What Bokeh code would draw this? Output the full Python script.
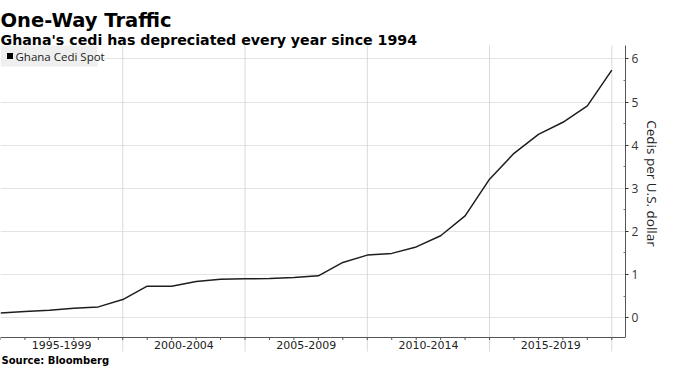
from bokeh.plotting import figure
from bokeh.models import FixedTicker
from bokeh.core.properties import value
from bokeh.embed import file_html
from bokeh.resources import INLINE

# ---- data (year-end USD/GHS spot) ----
years = [1994, 1995, 1996, 1997, 1998, 1999, 2000, 2001, 2002, 2003, 2004, 2005, 2006,
         2007, 2008, 2009, 2010, 2011, 2012, 2013, 2014, 2015, 2016, 2017, 2018, 2019]
cedi = [0.11, 0.14, 0.17, 0.22, 0.25, 0.42, 0.73, 0.73, 0.84, 0.89, 0.90, 0.91, 0.93,
        0.97, 1.28, 1.45, 1.49, 1.64, 1.90, 2.36, 3.21, 3.81, 4.25, 4.53, 4.91, 5.74]
band_starts = [1995, 2000, 2005, 2010, 2015]
band_labels = ["1995-1999", "2000-2004", "2005-2009", "2010-2014", "2015-2019"]
y_ticks = [0, 1, 2, 3, 4, 5, 6]

title_text = "One-Way Traffic"
subtitle_text = "Ghana's cedi has depreciated every year since 1994"
source_text = "Source: Bloomberg"
series_name = "Ghana Cedi Spot"
y_label = "Cedis per U.S. dollar"

# ---- layout (pixels) ----
W, H = 664, 366
RIGHT = 38
PX_TOP, PX_AXIS = 45, 337          # canvas rows of plot top and of the x axis line
LEG_W, LEG_H = 97, 21
X_LO, X_HI = 1995, 2020.56
Y_LO, Y_HI = -0.46, 6.31
ppu = (PX_AXIS - PX_TOP) / (Y_HI - Y_LO)
ppx = (W - RIGHT - 2) / (X_HI - X_LO)   # approximate, only used for the legend box
y_start = Y_LO - (H - PX_AXIS) / ppu
y_end = Y_HI + PX_TOP / ppu


def row(r):
    """canvas row (px from top) -> data y"""
    return y_end - r / ppu


p = figure(width=W, height=H, x_range=(X_LO, X_HI), y_range=(y_start, y_end),
           y_axis_location="right", x_axis_location=None, toolbar_location=None,
           output_backend="svg", title=None, min_border_left=0, min_border_right=RIGHT,
           min_border_top=0, min_border_bottom=0)
p.outline_line_color = None
p.background_fill_color = "white"
p.border_fill_color = "white"
for g in p.xgrid:
    g.visible = False

# horizontal grid
p.ygrid.ticker = FixedTicker(ticks=y_ticks)
p.ygrid.grid_line_color = "#e4e4e4"

# vertical grid lines continuing below the axis as band separators
seps = band_starts[1:] + [2020]
p.segment(x0=seps, x1=seps, y0=[Y_LO - 14 / ppu] * len(seps), y1=[Y_HI] * len(seps),
          line_color="#dadada", line_width=1)

# bottom axis line and yearly ticks
yrs = list(range(1995, 2021))
p.segment(x0=yrs, x1=yrs, y0=[Y_LO] * len(yrs), y1=[Y_LO - 2.5 / ppu] * len(yrs),
          line_color="#555555", line_width=1)
p.segment(x0=[X_LO], x1=[X_HI], y0=[Y_LO], y1=[Y_LO], line_color="#555555", line_width=1)

# data line: year-end values plotted at the end of each year
xs = [y + 1 for y in years]
p.line(xs, cedi, line_color="#1e1e1e", line_width=1.5)

# right axis
ya = p.yaxis[0]
ya.bounds = (Y_LO, Y_HI)
ya.ticker = FixedTicker(ticks=y_ticks, minor_ticks=[t + 0.5 for t in y_ticks[:-1]])
ya.major_tick_in = 0
ya.major_tick_out = 3
ya.minor_tick_in = 2
ya.minor_tick_out = 0
ya.major_tick_line_color = "#333333"
ya.minor_tick_line_color = "#777777"
ya.axis_line_color = "#555555"
ya.major_label_text_font = "Open Sans"
ya.major_label_text_font_size = "12px"
ya.major_label_text_color = "#333333"
ya.major_label_standoff = 3
ya.axis_label = y_label
ya.axis_label_text_font = "Open Sans"
ya.axis_label_text_font_size = "13.5px"
ya.axis_label_text_font_style = "normal"
ya.axis_label_text_color = "#222222"
ya.axis_label_standoff = 2

# legend: grey box, black square swatch, label
leg_row = PX_TOP + LEG_H / 2
p.rect(x=[X_LO + (LEG_W / 2) / ppx], y=[row(leg_row)], width=LEG_W, height=LEG_H,
       width_units="screen", height_units="screen", fill_color="#efefef", line_color=None)
p.scatter(x=[X_LO + 9.5 / ppx], y=[row(leg_row)], marker="square", size=6,
          fill_color="black", line_color=None)
p.text(x=[X_LO], y=[y_end], text=[series_name], x_offset=15, y_offset=leg_row,
       text_baseline="middle", text_font=value("Open Sans"), text_font_size="11.5px",
       text_color="#222222")

# band labels below the axis
p.text(x=[s + 2.5 for s in band_starts], y=[Y_LO] * len(band_starts), text=band_labels,
       y_offset=3, text_align="center", text_baseline="top",
       text_font=value("DejaVu Sans"), text_font_size="11px", text_color="#222222")

# titles and source
p.text(x=[X_LO], y=[y_end], text=[title_text], y_offset=20, text_baseline="alphabetic",
       text_font=value("DejaVu Sans"), text_font_style="bold", text_font_size="19.5px",
       text_color="#000000")
p.text(x=[X_LO], y=[y_end], text=[subtitle_text], y_offset=39, text_baseline="alphabetic",
       text_font=value("DejaVu Sans"), text_font_style="bold", text_font_size="14.2px",
       text_color="#000000")
p.text(x=[X_LO], y=[Y_LO], text=[source_text], x_offset=1, y_offset=23,
       text_baseline="alphabetic", text_font=value("DejaVu Sans"), text_font_style="bold",
       text_font_size="10px", text_color="#000000")

open("out.html", "w").write(file_html(p, INLINE))
